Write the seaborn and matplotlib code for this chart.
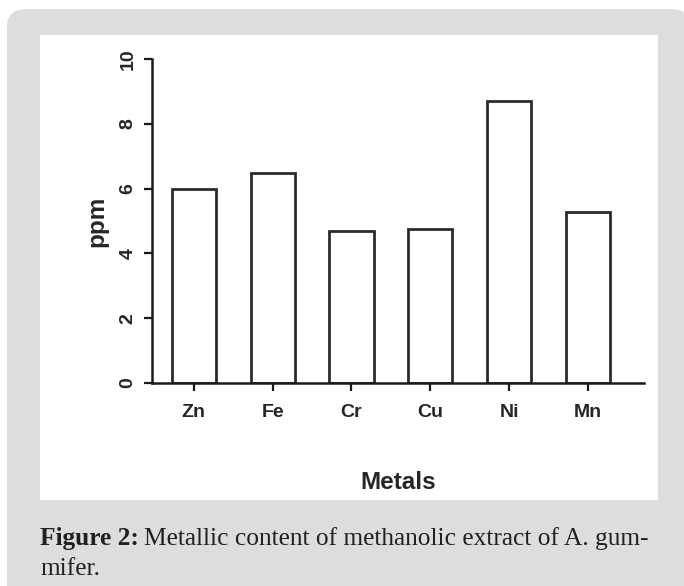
import matplotlib
matplotlib.use("Agg")
import matplotlib.pyplot as plt
from matplotlib.patches import FancyBboxPatch, Rectangle
import seaborn as sns
import pandas as pd

metales = ["Zn", "Fe", "Cr", "Cu", "Ni", "Mn"]
ppm = [6.0, 6.48, 4.69, 4.75, 8.70, 5.28]
y_ticks = [0, 2, 4, 6, 8, 10]

df = pd.DataFrame({"Metals": metales, "ppm": ppm})

sns.set_style("ticks")
plt.rcParams["font.family"] = ["Liberation Sans", "DejaVu Sans"]

fig = plt.figure(figsize=(6.84, 5.86), dpi=100)
fig.patch.set_facecolor("white")

# marco gris y panel blanco
fig.patches.append(FancyBboxPatch((7 / 684, -0.05), 1.0, 1 - 9 / 586 + 0.05,
                                  boxstyle="round,pad=0,rounding_size=0.03",
                                  transform=fig.transFigure, facecolor="#dcdddf",
                                  edgecolor="none", zorder=-3))
fig.patches.append(Rectangle((40 / 684, 1 - 500 / 586), 618 / 684, 465 / 586,
                             transform=fig.transFigure, facecolor="white",
                             edgecolor="none", zorder=-2))

ax = fig.add_axes([152 / 684, 1 - 383 / 586, 492 / 684, 324 / 586])
ax.set_facecolor("none")
sns.barplot(data=df, x="Metals", y="ppm", color="white", edgecolor="#2b2b2b",
            linewidth=2.0, width=0.56, ax=ax)

ax.set_ylim(0, 10)
ax.set_xlim(-0.53, 5.71)
ax.set_yticks(y_ticks)
ax.set_yticklabels([str(t) for t in y_ticks], rotation=90, va="center",
                   fontsize=14, fontweight="bold")
ax.set_xticks(range(len(metales)))
ax.set_xticklabels(metales, fontsize=14, fontweight="bold")
ax.tick_params(axis="both", width=1.6, length=6, color="#1a1a1a")
ax.tick_params(axis="y", pad=5)
ax.tick_params(axis="x", pad=9)
for s in ["left", "bottom"]:
    ax.spines[s].set_linewidth(1.8)
    ax.spines[s].set_color("#1a1a1a")
sns.despine(ax=ax)

ax.set_ylabel("ppm", fontsize=17.5, fontweight="bold", labelpad=8)
ax.set_xlabel("Metals", fontsize=17.5, fontweight="bold", labelpad=36)

# pie de figura
serif = ["Liberation Serif", "DejaVu Serif"]
t1 = fig.text(40 / 684, 1 - 545 / 586, "Figure 2:", family=serif,
              fontsize=18.3, fontweight="bold", va="baseline", color="#231f20")
fig.canvas.draw()
bb = t1.get_window_extent()
fig.text((bb.x1 + 5) / 684, 1 - 545 / 586,
         "Metallic content of methanolic extract of A. gum-",
         family=serif, fontsize=18.3, va="baseline", color="#231f20")
fig.text(40 / 684, 1 - 575 / 586, "mifer.", family=serif, fontsize=18.3,
         va="baseline", color="#231f20")

fig.savefig("out.png", dpi=100)
